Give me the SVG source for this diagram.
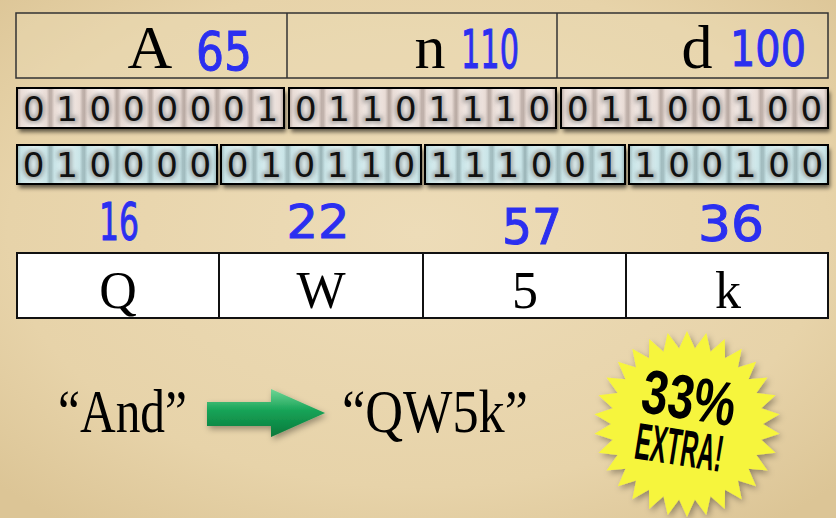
<svg xmlns="http://www.w3.org/2000/svg" width="836" height="518" viewBox="0 0 836 518">
<defs>
<radialGradient id="bg" cx="50%" cy="45%" r="70%">
<stop offset="0" stop-color="#eddcb8"/>
<stop offset="0.7" stop-color="#e7d3a9"/>
<stop offset="1" stop-color="#dcc596"/>
</radialGradient>
<linearGradient id="pinkCell" x1="0" y1="0" x2="1" y2="0">
<stop offset="0" stop-color="#b3a49d"/>
<stop offset="0.12" stop-color="#e8dbd5"/>
<stop offset="0.5" stop-color="#fbf4f1"/>
<stop offset="0.88" stop-color="#e8dbd5"/>
<stop offset="1" stop-color="#b3a49d"/>
</linearGradient>
<linearGradient id="blueCell" x1="0" y1="0" x2="1" y2="0">
<stop offset="0" stop-color="#98b2b5"/>
<stop offset="0.12" stop-color="#c9e4e7"/>
<stop offset="0.5" stop-color="#e4f5f6"/>
<stop offset="0.88" stop-color="#c9e4e7"/>
<stop offset="1" stop-color="#98b2b5"/>
</linearGradient>
<linearGradient id="arrowGrad" x1="0" y1="0" x2="0" y2="1">
<stop offset="0" stop-color="#6fd696"/>
<stop offset="0.45" stop-color="#17a357"/>
<stop offset="1" stop-color="#07783a"/>
</linearGradient>
<filter id="shadow" x="-5%" y="-20%" width="110%" height="150%">
<feDropShadow dx="2" dy="4" stdDeviation="2" flood-color="#000" flood-opacity="0.6"/>
</filter>
<filter id="softShadow" x="-20%" y="-20%" width="140%" height="140%">
<feDropShadow dx="2" dy="3" stdDeviation="3" flood-color="#000" flood-opacity="0.35"/>
</filter>
<filter id="halo" x="-20%" y="-20%" width="140%" height="140%">
<feGaussianBlur stdDeviation="2.2"/>
</filter>
<rect id="pc" width="33.375" height="40" fill="url(#pinkCell)"/>
<rect id="bc" width="33.333" height="39" fill="url(#blueCell)"/>
</defs>
<style>
.serif{font-family:"Liberation Serif","DejaVu Serif",serif;fill:#000;}
.hand{font-family:"DejaVu Sans","Liberation Sans",sans-serif;fill:#2b2ff0;stroke:#2b2ff0;stroke-width:1;}
.bits{font-family:"DejaVu Sans","Liberation Sans",sans-serif;font-size:34px;text-anchor:middle;fill:#111;}
.bitsHalo{font-family:"DejaVu Sans","Liberation Sans",sans-serif;font-size:34px;text-anchor:middle;fill:#666;stroke:#666;stroke-width:5;opacity:0.5;}
.frame{fill:none;stroke:#000;stroke-width:2;}
.tbl{stroke:#333;stroke-width:1.5;}
.burst{font-family:"Liberation Sans Narrow","Liberation Sans","DejaVu Sans",sans-serif;font-weight:bold;fill:#000;text-anchor:middle;}
</style>

<rect width="836" height="518" fill="url(#bg)"/>

<g id="chars">
<rect x="16" y="13" width="812" height="65" fill="#ecdcb6" fill-opacity="0.4" class="tbl"/>
<line x1="287" y1="13" x2="287" y2="78" class="tbl"/>
<line x1="557" y1="13" x2="557" y2="78" class="tbl"/>
<text x="150" y="68" font-size="62" text-anchor="middle" class="serif">A</text>
<text x="224" y="70" font-size="54" text-anchor="middle" textLength="56" lengthAdjust="spacingAndGlyphs" class="hand">65</text>
<text x="430" y="68" font-size="62" text-anchor="middle" class="serif">n</text>
<text x="490" y="68" font-size="54" text-anchor="middle" textLength="58" lengthAdjust="spacingAndGlyphs" class="hand">110</text>
<text x="697" y="68" font-size="62" text-anchor="middle" class="serif">d</text>
<text x="768" y="66" font-size="50" text-anchor="middle" textLength="76" lengthAdjust="spacingAndGlyphs" class="hand">100</text>
</g>

<g id="bytes">
<rect x="17" y="88" width="267" height="40" fill="#e8dbd5" filter="url(#shadow)"/>
<rect x="289" y="88" width="267" height="40" fill="#e8dbd5" filter="url(#shadow)"/>
<rect x="561" y="88" width="267" height="40" fill="#e8dbd5" filter="url(#shadow)"/>
<use href="#pc" x="17" y="88"/><use href="#pc" x="50.375" y="88"/><use href="#pc" x="83.75" y="88"/><use href="#pc" x="117.125" y="88"/><use href="#pc" x="150.5" y="88"/><use href="#pc" x="183.875" y="88"/><use href="#pc" x="217.25" y="88"/><use href="#pc" x="250.625" y="88"/>
<use href="#pc" x="289" y="88"/><use href="#pc" x="322.375" y="88"/><use href="#pc" x="355.75" y="88"/><use href="#pc" x="389.125" y="88"/><use href="#pc" x="422.5" y="88"/><use href="#pc" x="455.875" y="88"/><use href="#pc" x="489.25" y="88"/><use href="#pc" x="522.625" y="88"/>
<use href="#pc" x="561" y="88"/><use href="#pc" x="594.375" y="88"/><use href="#pc" x="627.75" y="88"/><use href="#pc" x="661.125" y="88"/><use href="#pc" x="694.5" y="88"/><use href="#pc" x="727.875" y="88"/><use href="#pc" x="761.25" y="88"/><use href="#pc" x="794.625" y="88"/>
<g filter="url(#halo)">
<text class="bitsHalo" y="121" x="33.7 67.1 100.4 133.8 167.2 200.6 233.9 267.3">01000001</text>
<text class="bitsHalo" y="121" x="305.7 339.1 372.4 405.8 439.2 472.6 505.9 539.3">01101110</text>
<text class="bitsHalo" y="121" x="577.7 611.1 644.4 677.8 711.2 744.6 777.9 811.3">01100100</text>
</g>
<text class="bits" y="121" x="33.7 67.1 100.4 133.8 167.2 200.6 233.9 267.3">01000001</text>
<text class="bits" y="121" x="305.7 339.1 372.4 405.8 439.2 472.6 505.9 539.3">01101110</text>
<text class="bits" y="121" x="577.7 611.1 644.4 677.8 711.2 744.6 777.9 811.3">01100100</text>
<rect x="17" y="88" width="267" height="40" class="frame"/>
<rect x="289" y="88" width="267" height="40" class="frame"/>
<rect x="561" y="88" width="267" height="40" class="frame"/>
</g>

<g id="sextets">
<rect x="17" y="145" width="200" height="39" fill="#c9e4e7" filter="url(#shadow)"/>
<rect x="221" y="145" width="200" height="39" fill="#c9e4e7" filter="url(#shadow)"/>
<rect x="425" y="145" width="200" height="39" fill="#c9e4e7" filter="url(#shadow)"/>
<rect x="629" y="145" width="199" height="39" fill="#c9e4e7" filter="url(#shadow)"/>
<use href="#bc" x="17" y="145"/><use href="#bc" x="50.33" y="145"/><use href="#bc" x="83.67" y="145"/><use href="#bc" x="117" y="145"/><use href="#bc" x="150.33" y="145"/><use href="#bc" x="183.67" y="145"/>
<use href="#bc" x="221" y="145"/><use href="#bc" x="254.33" y="145"/><use href="#bc" x="287.67" y="145"/><use href="#bc" x="321" y="145"/><use href="#bc" x="354.33" y="145"/><use href="#bc" x="387.67" y="145"/>
<use href="#bc" x="425" y="145"/><use href="#bc" x="458.33" y="145"/><use href="#bc" x="491.67" y="145"/><use href="#bc" x="525" y="145"/><use href="#bc" x="558.33" y="145"/><use href="#bc" x="591.67" y="145"/>
<use href="#bc" x="629" y="145"/><use href="#bc" x="662.33" y="145"/><use href="#bc" x="695.67" y="145"/><use href="#bc" x="729" y="145"/><use href="#bc" x="762.33" y="145"/><use href="#bc" x="795.67" y="145"/>
<g filter="url(#halo)">
<text class="bitsHalo" y="177" x="33.67 67 100.33 133.67 167 200.33">010000</text>
<text class="bitsHalo" y="177" x="237.67 271 304.33 337.67 371 404.33">010110</text>
<text class="bitsHalo" y="177" x="441.67 475 508.33 541.67 575 608.33">111001</text>
<text class="bitsHalo" y="177" x="645.67 679 712.33 745.67 779 812.33">100100</text>
</g>
<text class="bits" y="177" x="33.67 67 100.33 133.67 167 200.33">010000</text>
<text class="bits" y="177" x="237.67 271 304.33 337.67 371 404.33">010110</text>
<text class="bits" y="177" x="441.67 475 508.33 541.67 575 608.33">111001</text>
<text class="bits" y="177" x="645.67 679 712.33 745.67 779 812.33">100100</text>
<rect x="17" y="145" width="200" height="39" class="frame"/>
<rect x="221" y="145" width="200" height="39" class="frame"/>
<rect x="425" y="145" width="200" height="39" class="frame"/>
<rect x="629" y="145" width="199" height="39" class="frame"/>
</g>

<g id="values">
<text x="119" y="240" font-size="52" text-anchor="middle" textLength="40" lengthAdjust="spacingAndGlyphs" class="hand">16</text>
<text x="318" y="238" font-size="46" text-anchor="middle" textLength="63" lengthAdjust="spacingAndGlyphs" class="hand">22</text>
<text x="532" y="244" font-size="50" text-anchor="middle" textLength="60" lengthAdjust="spacingAndGlyphs" class="hand">57</text>
<text x="731" y="241" font-size="50" text-anchor="middle" textLength="66" lengthAdjust="spacingAndGlyphs" class="hand">36</text>
</g>

<g id="output">
<rect x="17" y="253" width="811" height="65" fill="#fff" stroke="#111" stroke-width="2"/>
<line x1="219" y1="253" x2="219" y2="318" stroke="#111" stroke-width="2"/>
<line x1="423" y1="253" x2="423" y2="318" stroke="#111" stroke-width="2"/>
<line x1="626" y1="253" x2="626" y2="318" stroke="#111" stroke-width="2"/>
<text x="118" y="308" font-size="52" text-anchor="middle" class="serif">Q</text>
<text x="321" y="308" font-size="52" text-anchor="middle" class="serif">W</text>
<text x="525" y="308" font-size="52" text-anchor="middle" class="serif">5</text>
<text x="728" y="308" font-size="52" text-anchor="middle" class="serif">k</text>
</g>

<g id="input-text">
<text x="58" y="432" font-size="62" textLength="129" lengthAdjust="spacingAndGlyphs" class="serif">“And”</text>
</g>

<g id="connectors">
<path d="M207,402 L271,402 L271,389 L325,413 L271,437 L271,426 L207,426 Z" fill="url(#arrowGrad)" filter="url(#softShadow)"/>
</g>

<g id="output-text">
<text x="342" y="432" font-size="62" textLength="186" lengthAdjust="spacingAndGlyphs" class="serif">“QW5k”</text>
</g>

<g id="burst">
<polygon transform="translate(687,424)" fill="#f6f53c" filter="url(#softShadow)" points="0,-93 7.9,-75.6 19.3,-91 23.5,-72.3 37.8,-85 38,-65.8 54.7,-75.2 50.9,-56.5 69.1,-62.2 61.5,-44.7 80.5,-46.5 69.4,-30.9 88.5,-28.7 74.3,-15.8 92.5,-9.7 76,0 92.5,9.7 74.3,15.8 88.5,28.7 69.4,30.9 80.5,46.5 61.5,44.7 69.1,62.2 50.9,56.5 54.7,75.2 38,65.8 37.8,85 23.5,72.3 19.3,91 7.9,75.6 0,93 -7.9,75.6 -19.3,91 -23.5,72.3 -37.8,85 -38,65.8 -54.7,75.2 -50.9,56.5 -69.1,62.2 -61.5,44.7 -80.5,46.5 -69.4,30.9 -88.5,28.7 -74.3,15.8 -92.5,9.7 -76,0 -92.5,-9.7 -74.3,-15.8 -88.5,-28.7 -69.4,-30.9 -80.5,-46.5 -61.5,-44.7 -69.1,-62.2 -50.9,-56.5 -54.7,-75.2 -38,-65.8 -37.8,-85 -23.5,-72.3 -19.3,-91 -7.9,-75.6"/>
<g transform="rotate(9 686 424)">
<text x="685" y="419" font-size="62" textLength="94" lengthAdjust="spacingAndGlyphs" class="burst">33%</text>
<text x="683" y="466" font-size="52" textLength="88" lengthAdjust="spacingAndGlyphs" class="burst">EXTRA!</text>
</g>
</g>
</svg>
